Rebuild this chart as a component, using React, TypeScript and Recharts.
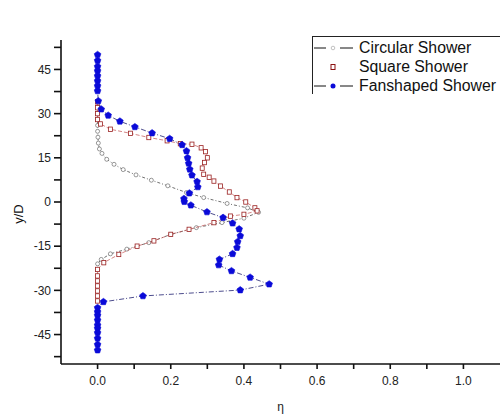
import React from "react";
import { ScatterChart, Scatter, XAxis, YAxis } from "recharts";

// values
const circularEta = [0, 0, 0, 0, 0.001, 0.002, 0.005, 0.012, 0.025, 0.045, 0.07, 0.105, 0.147, 0.192, 0.243, 0.29, 0.354, 0.41, 0.44, 0.4, 0.34, 0.27, 0.2, 0.14, 0.08, 0.035, 0.01, 0, 0];
const circularY = [30, 28, 26, 24, 22, 20, 18, 16.5, 14.5, 12.8, 11, 9.2, 7.4, 5.5, 3.2, 1.5, -0.5, -2, -3.5, -5.5, -7, -8.7, -11, -13.8, -16, -17.6, -19.5, -21, -23];

const squareEta = [0, 0, 0, 0, 0.008, 0.035, 0.09, 0.14, 0.19, 0.226, 0.258, 0.283, 0.295, 0.3, 0.292, 0.286, 0.29, 0.305, 0.318, 0.336, 0.36, 0.381, 0.405, 0.43, 0.436, 0.4, 0.363, 0.318, 0.25, 0.2, 0.154, 0.108, 0.058, 0.017, 0, 0, 0, 0, 0, 0, 0];
const squareY = [34, 32, 30, 28, 26.5, 24.7, 23.3, 21.9, 20.8, 19.8, 19.6, 18.4, 17.1, 15, 13.4, 11.5, 9.4, 8.4, 7.1, 5.4, 3.4, 1.5, 0, -2, -3, -4.2, -4.8, -7, -9.3, -11, -13.2, -15, -17.8, -20.6, -22.9, -25.1, -26.8, -28.5, -30.2, -31.9, -33.6];

const fanEta = [0, 0, 0, 0, 0, 0, 0, 0, 0.002, 0.01, 0.029, 0.061, 0.102, 0.149, 0.197, 0.231, 0.243, 0.246, 0.249, 0.252, 0.258, 0.272, 0.274, 0.251, 0.236, 0.237, 0.255, 0.299, 0.343, 0.369, 0.387, 0.39, 0.383, 0.381, 0.369, 0.333, 0.331, 0.366, 0.417, 0.469, 0.39, 0.124, 0.016, 0, 0, 0, 0, 0, 0, 0, 0, 0, 0];
const fanY = [50, 48, 46, 44.5, 42.8, 41.1, 39.4, 37.7, 34.3, 31.5, 29.4, 27.4, 25.5, 23.4, 21.5, 19.4, 17.3, 15, 13.1, 11.1, 9.1, 6.9, 5.1, 3, 1.1, 0.1, -1.1, -3.4, -5.3, -7.2, -9.2, -11.5, -13.5, -15.5, -17.6, -19.5, -21.4, -23.4, -25.6, -27.9, -29.9, -31.9, -33.9, -35.9, -37.3, -38.5, -40.1, -41.8, -42.9, -44.4, -46.3, -48.4, -50.3];

const xTicks = [0, 0.1, 0.2, 0.3, 0.4, 0.5, 0.6, 0.7, 0.8, 0.9, 1.0];
const yTicks = [-52.5, -45, -37.5, -30, -22.5, -15, -7.5, 0, 7.5, 15, 22.5, 30, 37.5, 45, 52.5];
const seriesNames = ["Circular Shower", "Square Shower", "Fanshaped Shower"];

const zip = (xs: number[], ys: number[]) => xs.map((x, i) => ({ eta: x, y: ys[i] }));
const circular = zip(circularEta, circularY);
const square = zip(squareEta, squareY);
const fan = zip(fanEta, fanY);

const font = "'Liberation Sans', Arial, sans-serif";

const CircleDot = (p: any) => <circle cx={p.cx} cy={p.cy} r={2} fill="#fff" stroke="#555" strokeWidth={0.6} />;
const SquareDot = (p: any) => <rect x={p.cx - 2} y={p.cy - 2.2} width={4} height={4.4} fill="#fff" stroke="#9a2020" strokeWidth={0.8} />;
const Penta = (p: any) => {
  const r = 3.5;
  const pts = [0, 1, 2, 3, 4].map((k) => {
    const a = -Math.PI / 2 + (k * 2 * Math.PI) / 5;
    return `${p.cx + r * Math.cos(a)},${p.cy + r * Math.sin(a)}`;
  }).join(" ");
  return <polygon points={pts} fill="#0a0ad8" stroke="#0a0ad8" strokeWidth={0.6} />;
};

const YLabel = ({ viewBox }: any) => {
  const cx = viewBox.x + 18;
  const cy = viewBox.y + viewBox.height / 2 + 12;
  return (
    <text x={cx} y={cy} transform={`rotate(-90 ${cx} ${cy})`} textAnchor="middle" dominantBaseline="central" fontSize={13} fill="#111" fontFamily={font}>y/D</text>
  );
};

const LegendBox = () => (
  <div style={{ position: "absolute", left: 312, top: 36, width: 190, height: 58, overflow: "hidden", borderTop: "1px solid #222", borderLeft: "1px solid #222", fontFamily: font, fontSize: 15.8, color: "#111", boxSizing: "border-box" }}>
    {seriesNames.map((name, i) => (
      <div key={name} style={{ display: "flex", alignItems: "center", height: 19, marginTop: i === 0 ? 1 : 0 }}>
        <svg width={46} height={12} style={{ flex: "none" }}>
          {i !== 1 && <line x1={1} x2={13} y1={6} y2={6} stroke="#111" strokeWidth={1} />}
          {i !== 1 && <line x1={27} x2={40} y1={6} y2={6} stroke="#111" strokeWidth={1} />}
          {i === 0 && <circle cx={20} cy={6} r={1.8} fill="#fff" stroke="#999" strokeWidth={0.6} />}
          {i === 1 && <rect x={18} y={3.5} width={4} height={5} fill="#fff" stroke="#8b1010" strokeWidth={1} />}
          {i === 2 && <circle cx={20} cy={6} r={2.5} fill="#0a0ad8" />}
        </svg>
        <span style={{ whiteSpace: "nowrap" }}>{name}</span>
      </div>
    ))}
  </div>
);

export default function App() {
  return (
    <div style={{ position: "absolute", left: 0, top: 0, width: 500, height: 418, background: "#fff" }}>
      <ScatterChart width={500} height={418} margin={{ top: 40, right: 0, bottom: 24, left: 0 }}>
        <XAxis
          type="number" dataKey="eta" domain={[-0.1, 1.1]} ticks={xTicks} interval={0}
          tickFormatter={(v: number) => (Math.round(v * 10) % 2 === 0 ? v.toFixed(1) : "")}
          stroke="#111" strokeWidth={1.6} tickSize={5} tickMargin={7} height={30}
          tick={{ fontSize: 12, fill: "#222", fontFamily: font }}
          label={{ value: "η", position: "bottom", offset: 8, fontSize: 12, fill: "#222", fontFamily: font }}
        />
        <YAxis
          type="number" dataKey="y" domain={[-55, 55]} ticks={yTicks} interval={0}
          tickFormatter={(v: number) => (v % 15 === 0 ? String(v) : "")}
          stroke="#111" strokeWidth={1.6} tickSize={7} tickMargin={3} width={61}
          tick={{ fontSize: 12, fill: "#222", fontFamily: font }}
          label={<YLabel />}
        />
        <Scatter name={seriesNames[0]} data={circular} shape={<CircleDot />} line={{ stroke: "#333", strokeWidth: 0.7, strokeDasharray: "3 2 1 2" }} isAnimationActive={false} />
        <Scatter name={seriesNames[1]} data={square} shape={<SquareDot />} line={{ stroke: "#c05050", strokeWidth: 0.7, strokeDasharray: "4 2" }} isAnimationActive={false} />
        <Scatter name={seriesNames[2]} data={fan} shape={<Penta />} line={{ stroke: "#202070", strokeWidth: 0.8, strokeDasharray: "5 2 1 2" }} isAnimationActive={false} />
      </ScatterChart>
      <LegendBox />
    </div>
  );
}
